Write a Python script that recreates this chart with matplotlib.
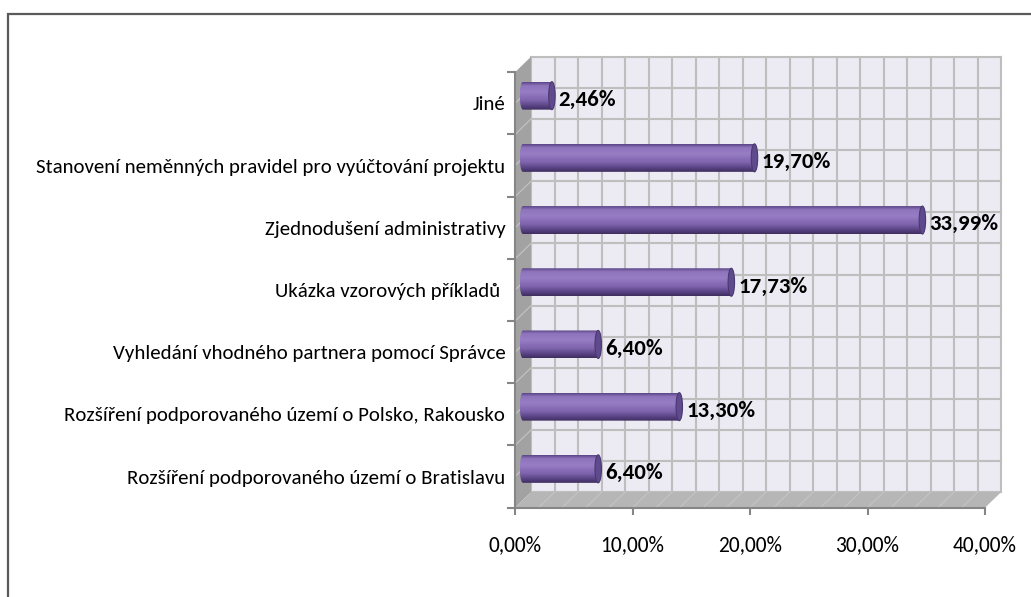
import numpy as np
import matplotlib
matplotlib.use("Agg")
import matplotlib.pyplot as plt
from matplotlib.patches import Polygon, Rectangle, Ellipse, PathPatch
from matplotlib.path import Path
from matplotlib.colors import LinearSegmentedColormap

# ----------------------------------------------------------------------------
# Data (top to bottom as shown in the chart)
# ----------------------------------------------------------------------------
categories = [
    "Jiné",
    "Stanovení neměnných pravidel pro vyúčtování projektu",
    "Zjednodušení administrativy",
    "Ukázka vzorových příkladů ",
    "Vyhledání vhodného partnera pomocí Správce",
    "Rozšíření podporovaného území o Polsko, Rakousko",
    "Rozšíření podporovaného území o Bratislavu",
]
values = [2.46, 19.70, 33.99, 17.73, 6.40, 13.30, 6.40]
xticks = [0, 10, 20, 30, 40]

# ----------------------------------------------------------------------------
# Style / geometry
# ----------------------------------------------------------------------------
plt.rcParams["font.family"] = ["Carlito", "DejaVu Sans"]

W, H, DPI = 1031, 597, 100
AX_L, AX_R, AX_T, AX_B = 515, 985, 72.3, 507.7      # front plane, pixels
XMAX, NCAT = 40, len(categories)
px_x = (AX_R - AX_L) / XMAX
px_y = (AX_B - AX_T) / NCAT
DX = 16.0 / px_x          # 3-D depth offset in data units
DY = 15.5 / px_y

WALL = "#ECEAF2"
GRID = "#BEBEBE"
SIDE = "#A2A2A2"
FLOOR = "#B6B6B6"
AXC = "#868686"

fig = plt.figure(figsize=(W / DPI, H / DPI), dpi=DPI)
ax = fig.add_axes([AX_L / W, 1 - AX_B / H, (AX_R - AX_L) / W, (AX_B - AX_T) / H])
ax.set_xlim(0, XMAX)
ax.set_ylim(0, NCAT)
ax.patch.set_visible(False)

# outer chart border
fig.patches.append(Rectangle((8 / W, -0.05), 1.2, (H - 14) / H + 0.05,
                             transform=fig.transFigure, fill=False,
                             edgecolor="#5a5a5a", lw=1.6, zorder=10))

# back wall + grid
ax.add_patch(Rectangle((DX, DY), XMAX, NCAT, facecolor=WALL, edgecolor="none",
                       zorder=0, clip_on=False))
for gx in np.arange(0, XMAX + 0.1, 2):
    ax.plot([gx + DX, gx + DX], [DY, NCAT + DY], color=GRID, lw=1.5,
            zorder=1, clip_on=False)
for gy in np.arange(0, NCAT + 0.01, 0.5):
    ax.plot([DX, XMAX + DX], [gy + DY, gy + DY], color=GRID, lw=1.5,
            zorder=1, clip_on=False)

# side wall and floor
ax.add_patch(Polygon([(0, 0), (0, NCAT), (DX, NCAT + DY), (DX, DY)],
                     closed=True, facecolor=SIDE, edgecolor="none",
                     zorder=1.5, clip_on=False))
ax.add_patch(Polygon([(0, 0), (XMAX, 0), (XMAX + DX, DY), (DX, DY)],
                     closed=True, facecolor=FLOOR, edgecolor="none",
                     zorder=1.5, clip_on=False))
for gy in np.arange(0.5, NCAT, 0.5):
    ax.plot([0, DX], [gy, gy + DY], color="#C4C4C4", lw=0.8, zorder=1.6,
            clip_on=False)
for gx in np.arange(2, XMAX, 2):
    ax.plot([gx, gx + DX], [0, DY], color="#C4C4C4", lw=0.8, zorder=1.6,
            clip_on=False)

# cylinder bars (gradient image clipped to a rounded body + end cap)
cyl = LinearSegmentedColormap.from_list(
    "cyl", [(0.0, "#5B4688"), (0.12, "#8E74BC"), (0.35, "#977DC4"),
            (0.65, "#7F64AE"), (0.85, "#5A4485"), (1.0, "#3F2E60")])
grad = np.linspace(0, 1, 64).reshape(-1, 1)
BAR_H = 0.45
CAPW = 0.55
ypos = [NCAT - 0.5 - i for i in range(NCAT)]

for y, v in zip(ypos, values):
    yc = y + DY / 2
    x0 = DX / 2
    x1 = x0 + v
    top, bot = yc + BAR_H / 2, yc - BAR_H / 2
    t = np.linspace(np.pi / 2, 3 * np.pi / 2, 30)      # top -> left -> bottom
    arc = np.column_stack([x0 + CAPW / 2 * np.cos(t), yc + BAR_H / 2 * np.sin(t)])
    verts = np.vstack([[[x1, bot], [x1, top]], arc, [[x1, bot]]])
    clip = PathPatch(Path(verts), facecolor="none", edgecolor="none")
    ax.add_patch(clip)
    im = ax.imshow(grad, cmap=cyl, aspect="auto", origin="upper",
                   extent=(x0 - CAPW / 2, x1, bot, top), zorder=3,
                   interpolation="bilinear")
    im.set_clip_path(clip)
    ax.add_patch(Ellipse((x1, yc), CAPW, BAR_H, facecolor="#5E4A8C",
                         edgecolor="#4A3872", lw=0.8, zorder=4))
    label = f"{v:.2f}".replace(".", ",") + "%"
    ax.text(x1 + CAPW / 2 + 0.3, yc - 0.07, label, ha="left", va="center",
            fontsize=16.5, fontweight="bold", color="black", zorder=5)

ax.set_xlim(0, XMAX)
ax.set_ylim(0, NCAT)

# axes, ticks and labels
for s in ["top", "right"]:
    ax.spines[s].set_visible(False)
for s in ["left", "bottom"]:
    ax.spines[s].set_color(AXC)
    ax.spines[s].set_linewidth(1.5)
    ax.spines[s].set_zorder(6)

ax.set_yticks(np.arange(0, NCAT + 1))
ax.set_yticklabels([])
ax.set_yticks(ypos, minor=True)
ax.set_yticklabels(categories, minor=True)
ax.tick_params(axis="y", which="major", length=6, width=1.5, color=AXC)
ax.tick_params(axis="y", which="minor", length=0, pad=7, labelsize=15)

ax.set_xticks(xticks)
ax.set_xticklabels([f"{x:.2f}".replace(".", ",") + "%" for x in xticks])
ax.tick_params(axis="x", length=5, width=1.5, color=AXC, pad=15, labelsize=15.5)

fig.savefig("out.png", dpi=DPI)
